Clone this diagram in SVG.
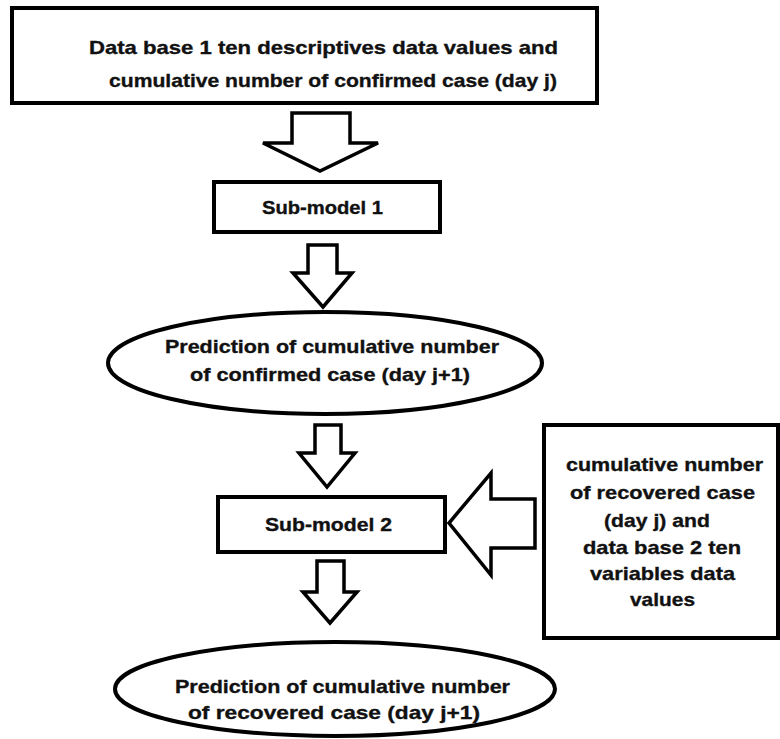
<svg xmlns="http://www.w3.org/2000/svg" width="780" height="739" viewBox="0 0 780 739">
<style>
.box{fill:#fff;stroke:#000;stroke-width:4}
.ell{fill:#fff;stroke:#000;stroke-width:4}
.arr{fill:#fff;stroke:#000;stroke-width:3.5;stroke-linejoin:miter}
.t{font-family:"Liberation Sans",Arial,sans-serif;font-weight:bold;font-size:19px;fill:#111;stroke:#111;stroke-width:0.35}
</style>
<rect width="780" height="739" fill="#fff"/>
<g id="connectors">
<polygon class="arr" points="292,113 350,113 350,143 378,143 320,171 263,143 292,143"/>
<polygon class="arr" points="308,245 337,245 337,273 352,273 323,307 293,273 308,273"/>
<polygon class="arr" points="315,425 341,425 341,453 355,453 327,487 299,453 315,453"/>
<polygon class="arr" points="317,561 344,561 344,592 357,592 330,623 303,592 317,592"/>
<polygon class="arr" points="535,499 535,548 491,548 491,575 449,523 491,473 491,499"/>
</g>
<g id="db1">
<rect class="box" x="12" y="8" width="585" height="95"/>
<text class="t" x="89" y="54" textLength="469" lengthAdjust="spacingAndGlyphs">Data base 1 ten descriptives data values  and</text>
<text class="t" x="109" y="87" textLength="448" lengthAdjust="spacingAndGlyphs">cumulative number of confirmed case (day j)</text>
</g>
<g id="sub1">
<rect class="box" x="214" y="182" width="226" height="50"/>
<text class="t" x="262" y="214" textLength="121" lengthAdjust="spacingAndGlyphs">Sub-model 1</text>
</g>
<g id="pred1">
<ellipse class="ell" cx="325" cy="363" rx="217" ry="51"/>
<text class="t" x="165" y="353" textLength="334" lengthAdjust="spacingAndGlyphs">Prediction of cumulative number</text>
<text class="t" x="190" y="381" textLength="280" lengthAdjust="spacingAndGlyphs">of confirmed case (day j+1)</text>
</g>
<g id="sub2">
<rect class="box" x="218" y="497" width="227" height="55"/>
<text class="t" x="265" y="531" textLength="127" lengthAdjust="spacingAndGlyphs">Sub-model  2</text>
</g>
<g id="db2">
<rect class="box" x="544" y="425" width="234" height="213"/>
<text class="t" x="566" y="471" textLength="197" lengthAdjust="spacingAndGlyphs">cumulative number</text>
<text class="t" x="570" y="499" textLength="185" lengthAdjust="spacingAndGlyphs">of recovered case</text>
<text class="t" x="604" y="527" textLength="106" lengthAdjust="spacingAndGlyphs">(day j) and</text>
<text class="t" x="583" y="554" textLength="158" lengthAdjust="spacingAndGlyphs">data base 2 ten</text>
<text class="t" x="590" y="580" textLength="145" lengthAdjust="spacingAndGlyphs">variables data</text>
<text class="t" x="630" y="606" textLength="65" lengthAdjust="spacingAndGlyphs">values</text>
</g>
<g id="pred2">
<ellipse class="ell" cx="335" cy="689" rx="220" ry="47"/>
<text class="t" x="175" y="693" textLength="335" lengthAdjust="spacingAndGlyphs">Prediction of cumulative number</text>
<text class="t" x="188" y="719" textLength="292" lengthAdjust="spacingAndGlyphs">of  recovered case (day j+1)</text>
</g>
</svg>
